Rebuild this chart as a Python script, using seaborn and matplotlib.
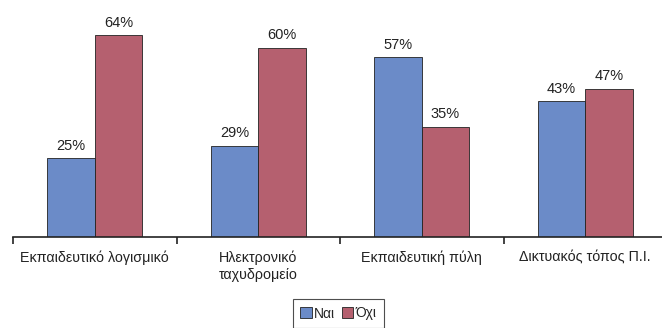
import matplotlib

matplotlib.use("Agg")

import matplotlib.pyplot as plt
import numpy as np
import pandas as pd
import seaborn as sns

categories = [
    "Εκπαιδευτικό λογισμικό",
    "Ηλεκτρονικό\nταχυδρομείο",
    "Εκπαιδευτική πύλη",
    "Δικτυακός τόπος Π.Ι.",
]
series_names = ["Ναι", "Όχι"]
yes_values = [25, 29, 57, 43]
no_values = [64, 60, 35, 47]

df = pd.DataFrame(
    {
        "category": categories * 2,
        "answer": [series_names[0]] * 4 + [series_names[1]] * 4,
        "value": yes_values + no_values,
    }
)

sns.set_theme(style="white")
plt.rcParams["font.family"] = ["Liberation Sans", "DejaVu Sans"]

fig = plt.figure(figsize=(6.62, 3.28), dpi=100)
ax = fig.add_axes([13 / 662, 1 - 237 / 328, 654 / 662, 224 / 328])

sns.barplot(
    data=df,
    x="category",
    y="value",
    hue="answer",
    palette=["#6B8BC8", "#B5606F"],
    saturation=1,
    width=0.58,
    edgecolor="#222222",
    linewidth=0.6,
    ax=ax,
)

for container in ax.containers:
    ax.bar_label(container, fmt="%d%%", padding=4, fontsize=10.5, color="#222222")

ax.set_ylim(0, 71)
ax.set_xlim(-0.5, len(categories) - 0.5)
ax.set_xlabel("")
ax.set_ylabel("")
ax.set_yticks([])
for side in ["top", "right", "left"]:
    ax.spines[side].set_visible(False)
ax.spines["bottom"].set_color("#222222")
ax.spines["bottom"].set_linewidth(1.2)

ax.set_xticks(np.arange(len(categories)))
ax.set_xticklabels(categories, fontsize=10.3, color="#222222")
ax.tick_params(axis="x", which="major", length=0, pad=10)
ax.set_xticks(np.arange(len(categories) + 1) - 0.5, minor=True)
ax.tick_params(axis="x", which="minor", length=5, width=1.2, color="#222222", direction="out", bottom=True)

handles, labels = ax.get_legend_handles_labels()
ax.get_legend().remove()
leg = fig.legend(
    handles,
    labels,
    loc="center",
    bbox_to_anchor=(338.5 / 662, 1 - 313.5 / 328),
    ncol=2,
    frameon=True,
    fancybox=False,
    edgecolor="#222222",
    fontsize=10,
    handlelength=0.8,
    handleheight=0.8,
    handletextpad=0.2,
    columnspacing=0.45,
    borderpad=0.55,
    borderaxespad=0,
)
leg.get_frame().set_linewidth(0.8)

fig.savefig("out.png", dpi=100)
